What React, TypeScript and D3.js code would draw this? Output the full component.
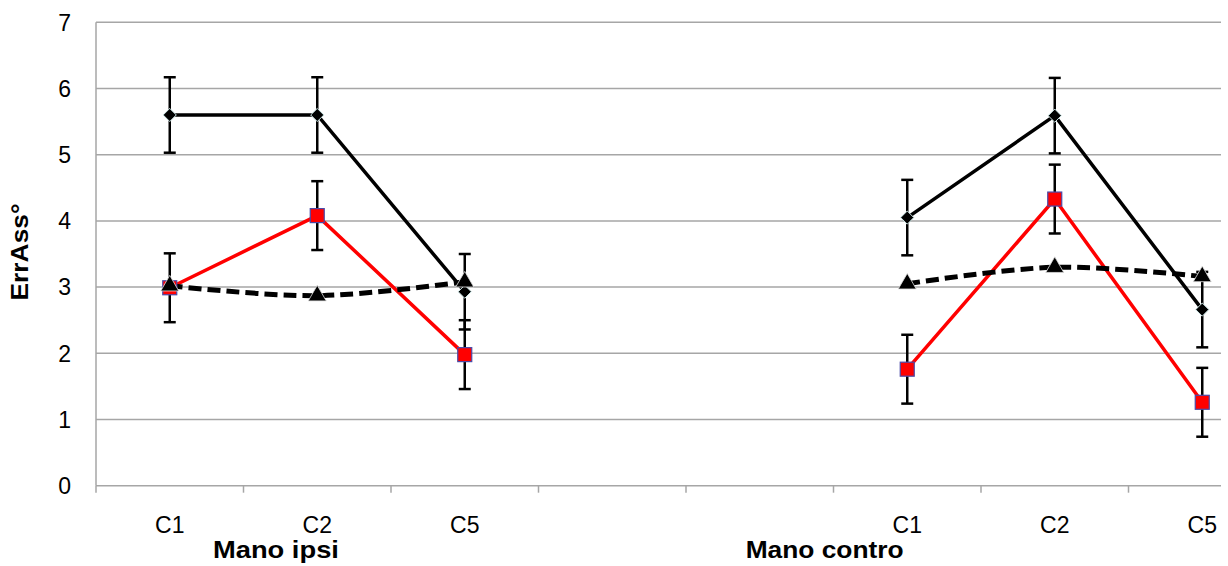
import React from "react";
import * as d3 from "d3";

// category slots along the x axis (two empty slots between the groups)
const slots = ["C1", "C2", "C5", "", "", "C1", "C2", "C5"];
const groups = [
  { name: "Mano ipsi", slot: 1.22, len: 126 },
  { name: "Mano contro", slot: 4.94, len: 158 },
];
const yTicks = [0, 1, 2, 3, 4, 5, 6, 7];

// values per slot (null = gap)
const blackVals = [5.6, 5.6, 2.93, null, null, 4.05, 5.59, 2.66];
const blackErr = [0.57, 0.57, 0.57, null, null, 0.57, 0.57, 0.57];
const redVals = [2.99, 4.08, 1.98, null, null, 1.76, 4.33, 1.26];
const redErr = [0.52, 0.52, 0.52, null, null, 0.52, 0.52, 0.52];
const triVals = [3.02, 2.87, 3.08, null, null, 3.05, 3.3, 3.16];

const W = 1228;
const H = 566;
const left = 96;
const top = 22.3;
const bottom = 485.7;
const plotRight = 1221;
const slotW = 147.5;

const FONT = "'Liberation Sans', Arial, sans-serif";

export default function App() {
  const ref = React.useRef<SVGSVGElement>(null);

  React.useEffect(() => {
    if (!ref.current) return;
    const svg = d3.select(ref.current);
    svg.selectAll("*").remove();

    const x = d3
      .scaleBand<number>()
      .domain(slots.map((_, i) => i))
      .range([left, left + slots.length * slotW])
      .padding(0);
    const cx = (i: number) => (x(i) as number) + x.bandwidth() / 2;
    const y = d3.scaleLinear().domain([0, 7]).range([bottom, top]);

    // grid
    svg
      .append("g")
      .selectAll("line")
      .data(yTicks.filter(t => t > 0))
      .join("line")
      .attr("x1", left)
      .attr("x2", plotRight)
      .attr("y1", d => y(d))
      .attr("y2", d => y(d))
      .attr("stroke", "#a6a6a6")
      .attr("stroke-width", 1.5);

    // axes
    svg
      .append("line")
      .attr("x1", left)
      .attr("x2", left)
      .attr("y1", y(7))
      .attr("y2", y(0))
      .attr("stroke", "#a6a6a6")
      .attr("stroke-width", 1.5);
    svg
      .append("line")
      .attr("x1", left)
      .attr("x2", plotRight)
      .attr("y1", y(0))
      .attr("y2", y(0))
      .attr("stroke", "#a6a6a6")
      .attr("stroke-width", 1.5);
    svg
      .append("g")
      .selectAll("line")
      .data(slots.map((_, i) => i))
      .join("line")
      .attr("x1", d => x(d) as number)
      .attr("x2", d => x(d) as number)
      .attr("y1", y(0))
      .attr("y2", y(0) + 7)
      .attr("stroke", "#a6a6a6")
      .attr("stroke-width", 1.5);

    // y tick labels
    svg
      .append("g")
      .selectAll("text")
      .data(yTicks)
      .join("text")
      .attr("x", 71)
      .attr("y", d => y(d))
      .attr("dy", "0.36em")
      .attr("text-anchor", "end")
      .style("font-family", FONT)
      .style("font-size", "23px")
      .text(d => d);

    // x labels
    svg
      .append("g")
      .selectAll("text")
      .data(slots.map((s, i) => ({ s, i })).filter(d => d.s))
      .join("text")
      .attr("x", d => cx(d.i))
      .attr("y", 533)
      .attr("text-anchor", "middle")
      .style("font-family", FONT)
      .style("font-size", "23px")
      .text(d => d.s);

    // group labels
    svg
      .append("g")
      .selectAll("text")
      .data(groups)
      .join("text")
      .attr("x", d => left + d.slot * x.bandwidth() - d.len / 2)
      .attr("y", 558)
      .attr("textLength", d => d.len)
      .attr("lengthAdjust", "spacingAndGlyphs")
      .style("font-family", FONT)
      .style("font-size", "24px")
      .style("font-weight", "bold")
      .text(d => d.name);

    svg
      .append("text")
      .attr("transform", "translate(27.5,252) rotate(-90)")
      .attr("x", -48.5)
      .attr("textLength", 97)
      .attr("lengthAdjust", "spacingAndGlyphs")
      .style("font-family", FONT)
      .style("font-size", "24px")
      .style("font-weight", "bold")
      .text("ErrAss°");

    const idx = slots.map((_, i) => i);
    const mkLine = (vals: (number | null)[]) =>
      d3
        .line<number>()
        .defined(i => vals[i] != null)
        .x(i => cx(i))
        .y(i => y(vals[i] as number));

    svg
      .append("path")
      .datum(idx)
      .attr("fill", "none")
      .attr("stroke", "#000")
      .attr("stroke-width", 3.5)
      .attr("d", mkLine(blackVals));
    svg
      .append("path")
      .datum(idx)
      .attr("fill", "none")
      .attr("stroke", "#ff0000")
      .attr("stroke-width", 3.5)
      .attr("d", mkLine(redVals));
    svg
      .append("path")
      .datum(idx)
      .attr("fill", "none")
      .attr("stroke", "#000")
      .attr("stroke-width", 5)
      .attr("stroke-dasharray", "13,6")
      .attr("d", mkLine(triVals).curve(d3.curveCatmullRom));

    // error bars
    const errBars = (vals: (number | null)[], err: (number | null)[]) => {
      const pts = idx.filter(i => vals[i] != null && err[i] != null);
      const g = svg
        .append("g")
        .attr("stroke", "#000")
        .attr("stroke-width", 2.5)
        .attr("fill", "none");
      g.selectAll("line.v")
        .data(pts)
        .join("line")
        .attr("class", "v")
        .attr("x1", i => cx(i))
        .attr("x2", i => cx(i))
        .attr("y1", i => y((vals[i] as number) + (err[i] as number)))
        .attr("y2", i => y((vals[i] as number) - (err[i] as number)));
      [1, -1].forEach(s => {
        g.selectAll(`line.c${s}`)
          .data(pts)
          .join("line")
          .attr("class", `c${s}`)
          .attr("x1", i => cx(i) - 6)
          .attr("x2", i => cx(i) + 6)
          .attr("y1", i => y((vals[i] as number) + s * (err[i] as number)))
          .attr("y2", i => y((vals[i] as number) + s * (err[i] as number)));
      });
    };
    errBars(blackVals, blackErr);
    errBars(redVals, redErr);

    // markers
    const defined = (vals: (number | null)[]) => idx.filter(i => vals[i] != null);
    svg
      .append("g")
      .selectAll("path")
      .data(defined(blackVals))
      .join("path")
      .attr("d", d3.symbol(d3.symbolDiamond2, 110)())
      .attr("transform", i => `translate(${cx(i)},${y(blackVals[i] as number)})`)
      .attr("fill", "#000")
      .attr("stroke", "#cfe8e8")
      .attr("stroke-width", 1);
    svg
      .append("g")
      .selectAll("rect")
      .data(defined(redVals))
      .join("rect")
      .attr("x", i => cx(i) - 7)
      .attr("y", i => y(redVals[i] as number) - 7)
      .attr("width", 14)
      .attr("height", 14)
      .attr("fill", "#ff0000")
      .attr("stroke", "#4a4aa8")
      .attr("stroke-width", 1.2);
    svg
      .append("g")
      .selectAll("path")
      .data(defined(triVals))
      .join("path")
      .attr("d", d3.symbol(d3.symbolTriangle, 140)())
      .attr("transform", i => `translate(${cx(i)},${y(triVals[i] as number)})`)
      .attr("fill", "#000")
      .attr("stroke", "#e0e0e0")
      .attr("stroke-width", 0.8);
  }, []);

  return (
    <svg
      ref={ref}
      width={W}
      height={H}
      style={{ position: "absolute", left: 0, top: 0, background: "#fff" }}
    />
  );
}
